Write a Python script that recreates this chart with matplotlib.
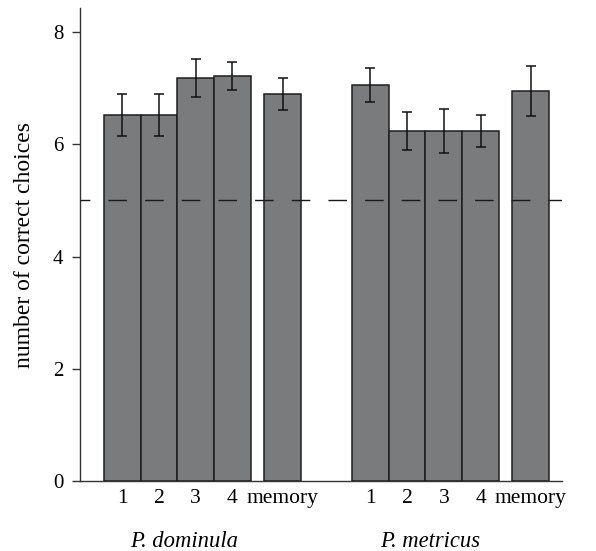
import matplotlib
matplotlib.use("Agg")
import matplotlib.pyplot as plt
import matplotlib.transforms as mtransforms

# data
species = ["P. dominula", "P. metricus"]
tick_labels = ["1", "2", "3", "4", "memory"]
dominula_mean = [6.52, 6.52, 7.18, 7.22, 6.90]
dominula_err = [0.37, 0.38, 0.34, 0.25, 0.29]
metricus_mean = [7.06, 6.24, 6.24, 6.24, 6.95]
metricus_err = [0.30, 0.34, 0.39, 0.29, 0.44]
chance = 5

plt.rcParams["font.family"] = ["Liberation Serif", "DejaVu Serif"]
plt.rcParams["lines.scale_dashes"] = False

fig = plt.figure(figsize=(5.96, 5.51), dpi=100)
ax = fig.add_axes([80 / 596, 70 / 551, 482 / 596, 473 / 551])

# bar positions: trials 1-4 side by side, memory set apart
pos_dom = [1, 2, 3, 4, 5.37]
pos_met = [7.76, 8.76, 9.76, 10.76, 12.13]

bar_col = "#7a7b7d"
edge_col = "#1e1e1e"
for pos, mean, err in [(pos_dom, dominula_mean, dominula_err),
                       (pos_met, metricus_mean, metricus_err)]:
    ax.bar(pos, mean, width=1.0, color=bar_col, edgecolor=edge_col,
           linewidth=1.1, zorder=2)
    ax.errorbar(pos, mean, yerr=err, fmt="none", ecolor="#111111",
                elinewidth=1.1, capsize=3.5, capthick=1.1, zorder=3)

ln = ax.axhline(chance, color="#1a1a1a", linewidth=1.0, zorder=4)
ln.set_linestyle((6.3, (13.4, 13.0)))

ax.set_xlim(-0.154, 12.98)
ax.set_ylim(0, 8.43)
ax.set_yticks([0, 2, 4, 6, 8])
ax.set_xticks(pos_dom + pos_met)
ax.set_xticklabels(tick_labels * 2)

ax.tick_params(axis="y", length=6, width=1.0, color="#333333",
               labelsize=15, pad=6)
ax.tick_params(axis="x", length=0, labelsize=15.5, pad=6)

for s in ["top", "right"]:
    ax.spines[s].set_visible(False)
for s in ["left", "bottom"]:
    ax.spines[s].set_color("#333333")
    ax.spines[s].set_linewidth(1.0)

ax.set_ylabel("number of correct choices", fontsize=17, labelpad=13)

trans = mtransforms.blended_transform_factory(ax.transData, ax.transAxes)
ax.text(2.68, -0.128, species[0], transform=trans, ha="center",
        va="center", fontsize=16.3, style="italic")
ax.text(9.39, -0.128, species[1], transform=trans, ha="center",
        va="center", fontsize=16.3, style="italic")

fig.savefig("out.png", dpi=100)
